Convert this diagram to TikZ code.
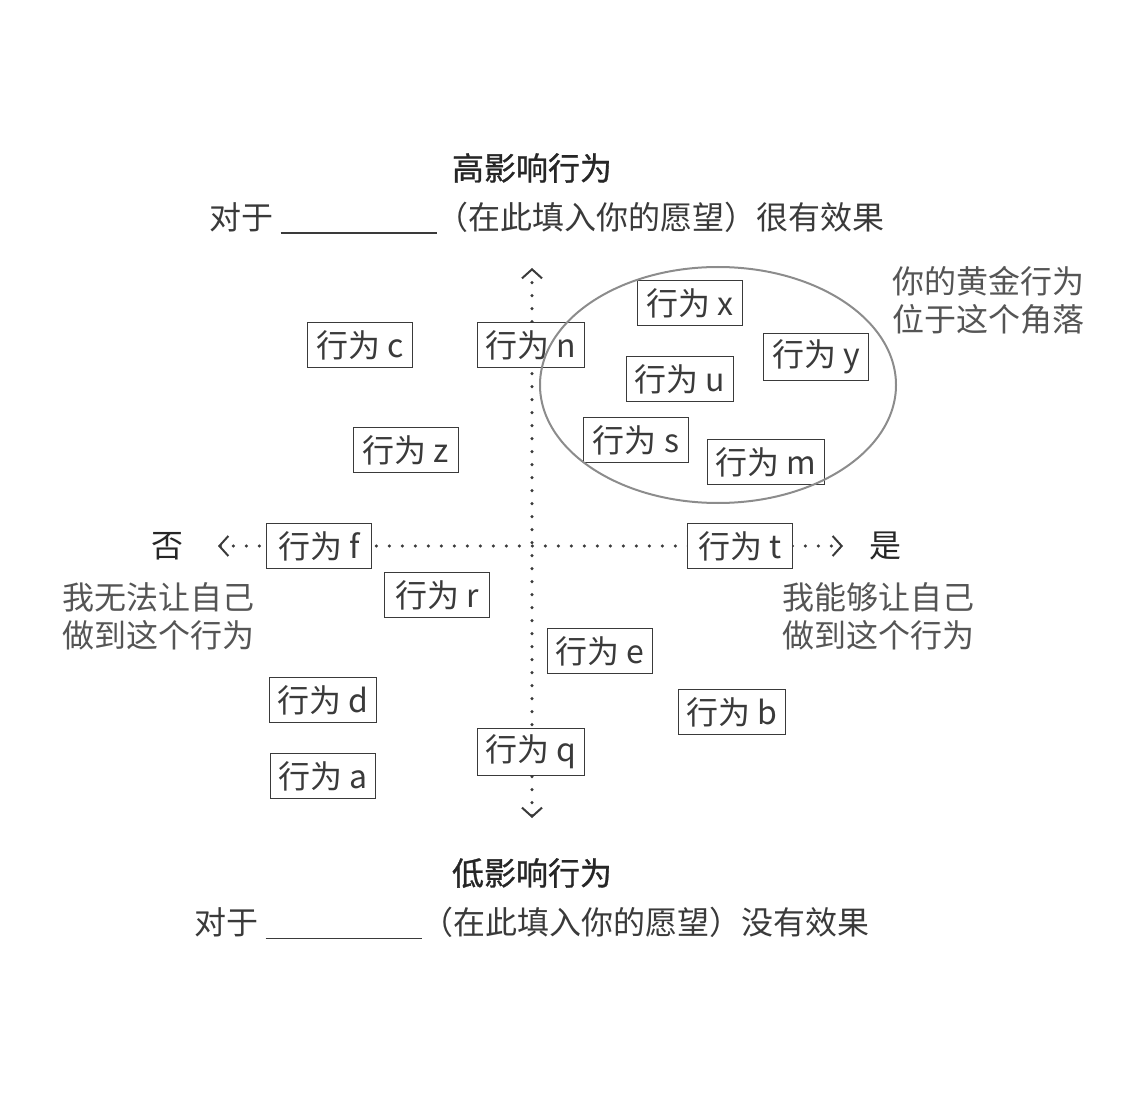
\documentclass[tikz,border=0pt]{standalone}
\usepackage{fontspec}
\setmainfont{Noto Sans CJK SC}
\newfontfamily\titlefont{Noto Sans CJK SC}[FakeBold=0.9]
\usepackage{xcolor}
\usepackage{tikz}
\usetikzlibrary{positioning}
\usetikzlibrary{arrows.meta}
\usetikzlibrary{shapes.geometric}

\definecolor{inkdark}{HTML}{262626}
\definecolor{ink}{HTML}{3A3A3A}
\definecolor{inklight}{HTML}{555555}
\definecolor{ringgray}{HTML}{8C8C8C}

\begin{document}
\begin{tikzpicture}[x=0.5pt, y=-0.5pt,
				behav/.style={rectangle, draw=ink, line width=0.6pt, fill=white,
						minimum width=52.5pt, minimum height=22.5pt, inner xsep=4pt,
						text=ink, font=\fontsize{16}{19}\selectfont},
				label/.style={inner sep=0pt, text=inklight, align=left,
						font=\fontsize{16}{19}\selectfont},
				title/.style={inner sep=0pt, text=inkdark,
						font=\fontsize{16}{19}\selectfont\titlefont},
				axis/.style={ink, line width=1.7pt, line cap=round,
						dash pattern=on 0pt off 6.5pt,
						{Straight Barb[length=4.5pt, width=10pt, line width=1pt]}-{Straight Barb[length=4.5pt, width=10pt, line width=1pt]}}
			]
			\useasboundingbox (0,0) rectangle (1125,1118);

			% axis ends
			\coordinate (top) at (532,268);
			\coordinate (bottom) at (532,818);
			\coordinate (left) at (218,546);
			\coordinate (right) at (843,546);

			% Axes
			\draw[axis] (bottom) -- (top);
			\draw[axis] (left) -- (right);

			% Behaviour boxes
			\node[behav] (bc) at (360,345) {行为 c};
			\node[behav] (bn) at (531,345) {行为 n};
			\node[behav] (bx) at (690,303) {行为 x};
			\node[behav] (by) at (816,357) {行为 y};
			\node[behav] (bu) at (680,379) {行为 u};
			\node[behav] (bs) at (636,440) {行为 s};
			\node[behav] (bm) at (766,462) {行为 m};
			\node[behav] (bz) at (406,450) {行为 z};
			\node[behav] (bf) at (319,546) {行为 f};
			\node[behav] (bt) at (740,546) {行为 t};
			\node[behav] (br) at (437,595) {行为 r};
			\node[behav] (be) at (600,651) {行为 e};
			\node[behav] (bd) at (323,700) {行为 d};
			\node[behav] (bb) at (732,712) {行为 b};
			\node[behav] (ba) at (323,776) {行为 a};
			\node[behav] (bq) at (531,752) {行为 q};

			% Golden corner
			\node[ellipse, draw=ringgray, line width=1pt, minimum width=178pt,
				minimum height=118pt, inner sep=0pt] (golden) at (718,385) {};
			\node[label, anchor=west] (goldtext) at (892,300) {你的黄金行为\\位于这个角落};

			% Axis labels
			\node[title] (high) at (532,168) {高影响行为};
			\node[label, text=ink] (highsub) at (547,218) {对于 \rule[-2pt]{78pt}{0.6pt}（在此填入你的愿望）很有效果};
			\node[title] (low) at (532,873) {低影响行为};
			\node[label, text=ink] (lowsub) at (532,923) {对于 \rule[-2pt]{78pt}{0.6pt}（在此填入你的愿望）没有效果};
			\node[label, text=inkdark] (no) at (167,546) {否};
			\node[label, text=inkdark] (yes) at (885,546) {是};
			\node[label, anchor=west] (notext) at (62,616) {我无法让自己\\做到这个行为};
			\node[label, anchor=west] (yestext) at (782,616) {我能够让自己\\做到这个行为};

		\end{tikzpicture}
\end{document}
